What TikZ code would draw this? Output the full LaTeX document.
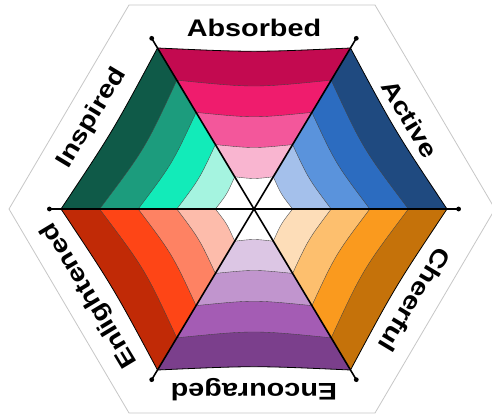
\documentclass[tikz,border=0pt]{standalone}
\usepackage{fontspec}
\setmainfont{Liberation Sans}
\usetikzlibrary{calc}
\definecolor{absA}{HTML}{C30A50}
\definecolor{absB}{HTML}{EF1C6D}
\definecolor{absC}{HTML}{F3579B}
\definecolor{absD}{HTML}{F9B5D0}
\definecolor{actA}{HTML}{1F4A80}
\definecolor{actB}{HTML}{2C6CC0}
\definecolor{actC}{HTML}{5A93DC}
\definecolor{actD}{HTML}{A4C0EB}
\definecolor{cheA}{HTML}{C5720A}
\definecolor{cheB}{HTML}{FA9A1E}
\definecolor{cheC}{HTML}{FDBF6E}
\definecolor{cheD}{HTML}{FDDDB8}
\definecolor{encA}{HTML}{7B3F8C}
\definecolor{encB}{HTML}{A45CB4}
\definecolor{encC}{HTML}{C195CE}
\definecolor{encD}{HTML}{DCC6E4}
\definecolor{enlA}{HTML}{C12A06}
\definecolor{enlB}{HTML}{FE4516}
\definecolor{enlC}{HTML}{FE8263}
\definecolor{enlD}{HTML}{FDBCAB}
\definecolor{insA}{HTML}{0F5A48}
\definecolor{insB}{HTML}{1C9C7D}
\definecolor{insC}{HTML}{12EBB9}
\definecolor{insD}{HTML}{A5F4E0}
\begin{document}
\begin{tikzpicture}[x=1pt,y=1pt,
  bandline/.style={draw=black!75, line width=0.35pt},
  spoke/.style={line width=1.6pt, draw=black},
  rim/.style={line width=0.8pt, draw=black},
  frame/.style={draw=black!22, fill=white, line width=0.8pt},
  lbl/.style={font=\bfseries\fontsize{24}{24}\selectfont, inner sep=0pt}]
\useasboundingbox (-254,-208) rectangle (238,209);
\clip (-254,-208) rectangle (238,209);
\fill[white] (-254,-208) rectangle (238,209);
\draw[frame] (-245,0) -- (-125,204) -- (121,204) -- (241,0) -- (121,-204) -- (-125,-204) -- cycle;
\coordinate (O) at (0,0);
\coordinate (V0) at (193,0);
\coordinate (V1) at (96.5,161);
\coordinate (V2) at (-96.5,161);
\coordinate (V3) at (-193,0);
\coordinate (V4) at (-96.5,-161);
\coordinate (V5) at (96.5,-161);
\foreach \a/\b/\ca/\cb/\cc/\cd in {1/2/absA/absB/absC/absD, 0/1/actA/actB/actC/actD, 5/0/cheA/cheB/cheC/cheD, 4/5/encA/encB/encC/encD, 3/4/enlA/enlB/enlC/enlD, 2/3/insA/insB/insC/insD} {
  \foreach \f/\k/\col in {1/0.973/\ca, 0.8/0.94/\cb, 0.6/0.94/\cc, 0.4/0.94/\cd, 0.2/0.93/white} {
    \pgfmathsetmacro\kk{\f*\k*0.5}
    \fill[fill=\col] (O) -- ($\f*(V\a)$) .. controls ($\kk*(V\a)+\kk*(V\b)$) .. ($\f*(V\b)$) -- cycle;
  }
  \foreach \f/\k in {0.8/0.94, 0.6/0.94, 0.4/0.94, 0.2/0.93} {
    \pgfmathsetmacro\kk{\f*\k*0.5}
    \draw[bandline] ($\f*(V\a)$) .. controls ($\kk*(V\a)+\kk*(V\b)$) .. ($\f*(V\b)$);
  }
  \pgfmathsetmacro\kk{0.973*0.5}
  \draw[rim] (V\a) .. controls ($\kk*(V\a)+\kk*(V\b)$) .. (V\b);
}
\foreach \i in {0,...,5} { \coordinate (D\i) at ($1.06*(V\i)$); }
\draw[spoke] (D0) -- (D3);
\draw[spoke] (D1) -- (D4);
\draw[spoke] (D2) -- (D5);
\foreach \i in {0,...,5} { \fill (D\i) circle (2.4); }
\node[lbl] (absorbed) at (0,181) {\scalebox{1.2}[1]{Absorbed}};
\node[lbl, rotate=-59] (active) at (156,90) {\scalebox{1.2}[1]{Active}};
\node[lbl, rotate=-121] (cheerful) at (161,-91) {\scalebox{1.2}[1]{Cheerful}};
\node[lbl, rotate=180] (encouraged) at (0,-181) {\scalebox{1.2}[1]{Encouraged}};
\node[lbl, rotate=121] (enlightened) at (-164,-86) {\scalebox{1.2}[1]{Enlightened}};
\node[lbl, rotate=59] (inspired) at (-162,91) {\scalebox{1.2}[1]{Inspired}};
\end{tikzpicture}
\end{document}
